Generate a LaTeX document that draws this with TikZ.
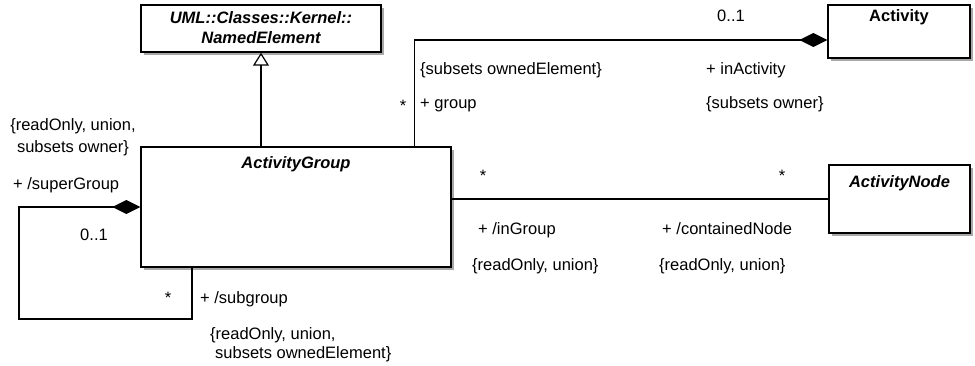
\documentclass[tikz,border=0pt]{standalone}
\usepackage{fontspec}
\setmainfont{Liberation Sans}
\usetikzlibrary{positioning,arrows.meta,shadows,calc}
\definecolor{clsline}{HTML}{000000}
\definecolor{clsshade}{HTML}{A8A8A8}
\tikzset{
  cls/.style={draw=clsline, line width=1.4pt, fill=white, inner sep=0pt,
              drop shadow={shadow xshift=3pt, shadow yshift=-3pt, fill=clsshade, opacity=1}},
  title/.style={font=\fontsize{16.5}{20}\selectfont\bfseries\itshape, inner sep=0pt, align=center},
  lbl/.style={font=\fontsize{16.5}{22}\selectfont, inner sep=0pt},
  mult/.style={lbl, anchor=base},
  role/.style={lbl, anchor=base west},
  link/.style={line width=1.2pt, draw=black},
  gen/.style={link, -{Triangle[open, length=13pt, width=16pt, line width=1.2pt]}},
  comp/.style={link, -{Diamond[length=28pt, width=14pt]}},
}

\begin{document}
\begin{tikzpicture}[x=1pt, y=-1pt]
\useasboundingbox (0,0) rectangle (975,366);

% ---- classes --------------------------------------------------------------
\node[cls, minimum width=240pt, minimum height=47pt] (named) at (261,28.5) {};
\node[title, below=7pt of named.north] (namedt) {UML::Classes::Kernel::\\NamedElement};
\node[cls, minimum width=310pt, minimum height=120pt] (grp) at (296,207) {};
\node[title, below=10pt of grp.north] (grpt) {ActivityGroup};
\node[cls, minimum width=142pt, minimum height=53pt] (act) at (899,31.5) {};
\node[title, font=\fontsize{16.5}{20}\selectfont\bfseries, below=5pt of act.north] (actt) {Activity};
\node[cls, minimum width=141pt, minimum height=68pt] (anode) at (899.5,199) {};
\node[title, below=11pt of anode.north] (anodet) {ActivityNode};

% ---- connectors -----------------------------------------------------------
\draw[gen] (grp.north -| named.south) -- (named.south);
\coordinate (actin) at ($(act.west)+(0,8.5)$);
\coordinate (grpup) at ($(grp.north west)+(274,0)$);
\draw[comp] (grpup) |- (actin);
\draw[link] (grp.east |- anode.west) -- (anode.west);
% self association: subgroup below, superGroup on the left
\coordinate (loopr) at (192,319);
\coordinate (loopl) at (19,319);
\draw[comp] (grp.south -| loopr) -- (loopr) -- (loopl) |- (grp.west);

% ---- ends of the association to Activity ----------------------------------
\node[mult] (m1) at (403,112) {*};
\node[role] (r1) at (420,75) {\{subsets ownedElement\}};
\node[role] (r2) at (420,109) {+ group};
\node[mult] (m2) at (731,22) {0..1};
\node[role] (r3) at (706,75) {+ inActivity};
\node[role] (r4) at (706,109) {\{subsets owner\}};

% ---- ends of the association to ActivityNode ------------------------------
\node[mult] (m3) at (483,182) {*};
\node[mult] (m4) at (782,182) {*};
\node[role] (r5) at (478,235) {+ /inGroup};
\node[role] (r6) at (472,270) {\{readOnly, union\}};
\node[role] (r7) at (662,235) {+ /containedNode};
\node[role] (r8) at (659,270) {\{readOnly, union\}};

% ---- ends of the self association -----------------------------------------
\node[lbl, align=center, anchor=north] (r9) at (73,118) {\{readOnly, union,\\subsets owner\}};
\node[role] (r10) at (13,190) {+ /superGroup};
\node[mult] (m5) at (94,241) {0..1};
\node[mult] (m6) at (168,304) {*};
\node[role] (r11) at (200,304) {+ /subgroup};
\node[lbl, align=left, anchor=north west, font=\fontsize{16.5}{19}\selectfont] (r12) at (210,327)
  {\{readOnly, union,\\\hspace*{5pt}subsets ownedElement\}};
\end{tikzpicture}
\end{document}
